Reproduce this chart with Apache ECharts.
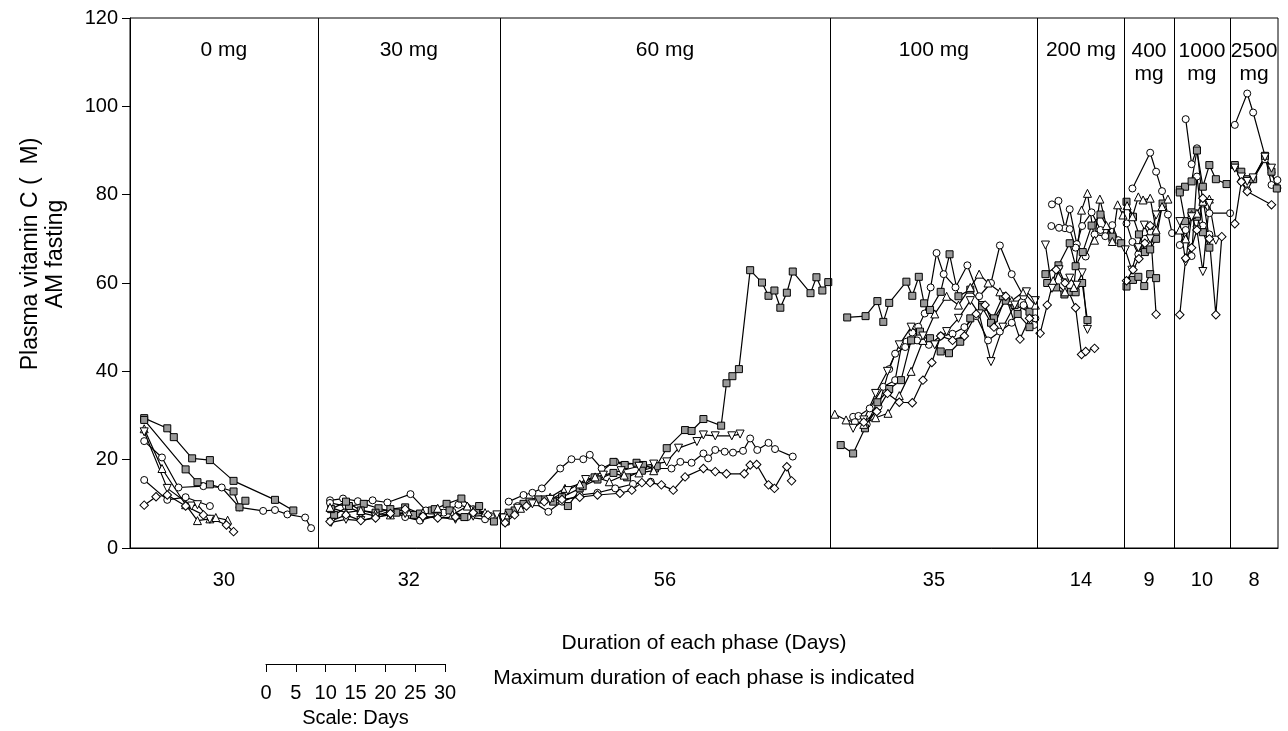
<!DOCTYPE html>
<html lang="en">
<head>
<meta charset="UTF-8">
<title>Plasma vitamin C</title>
<script src="https://cdn.jsdelivr.net/npm/echarts@6/dist/echarts.min.js"></script>
<style>
  html, body { margin: 0; padding: 0; background: #fff; }
  #chart { width: 1288px; height: 731px; }
</style>
</head>
<body>
<div id="chart"></div>
<script>
// phases (dose) and their maximum duration in days
var phaseNames = ['0 mg', '30 mg', '60 mg', '100 mg', '200 mg', '400\nmg', '1000\nmg', '2500\nmg'];
var phaseDays = [30, 32, 56, 35, 14, 9, 10, 8];
// phase borders on the running day axis
var phaseEdges = [0, 31.75, 62.5, 118.3, 153.4, 168, 176.4, 185.9, 194];
var scaleTicks = [0, 30];

// one array per subject, [day, µM]; null = next phase
var circleA = [
  [2.4,24.2],[5.4,20.5],[8.2,13.7],[12.4,14.0],[15.5,13.7],[18.5,9.2],[22.5,8.4],[24.5,8.6],[26.6,7.6],[29.6,6.9],[30.6,4.5], null,
  [33.8,10.8],[36,11.2],[38.5,10.6],[41,10.8],[43.5,10.3],[47.4,12.2],[50,8.5],[53,8.0],[55.5,9.8],[58,8.8],[61,7.2], null,
  [64,10.5],[66.5,12.0],[68,12.5],[69.6,13.5],[72.7,18.0],[74.6,20.1],[76.6,20.1],[77.7,21.1],[79.7,18.0],[82,19.5],[85.6,19.0],[88.7,18.0],[91.5,18.0],[93,19.5],[94.9,19.3],[96.9,21.4],[97.7,20.3],[98.9,22.2],[100.5,21.8],[101.9,21.6],[103.6,22.0],[104.8,24.8],[106,22.2],[107.9,23.8],[109,22.4],[112,20.7], null,
  [122.2,29.7],[123.1,29.9],[125,31.6],[127.3,36.5],[129.3,38.0],[130.4,46.0],[131.2,46.7],[132.2,48.8],[133.2,50.1],[134.3,53.1],[135.3,59],[136.3,66.8],[137.5,62],[139.5,59],[141.5,64],[143.5,57],[145.5,60],[147,68.5],[149,62],[151,57],[152.8,50.5], null,
  [155.8,77.8],[156.9,78.6],[158,72.4],[158.8,76.7],[160,68.8],[161.5,66],[163,71],[164.8,70.6],[166,73.1],[167,69.7], null,
  [169.4,81.4],[172.4,89.5],[173.4,85.2],[174.4,80.8],[175.4,75.5],[176.1,71.3], null,
  [178.4,97.1],[179.4,86.9],[180.3,90.5],[181.3,78],[182.4,75.8],[185.9,75.8], null,
  [186.7,95.8],[188.8,102.9],[189.8,98.6],[191.8,88.8],[192.9,82.2],[193.9,83.3]
];
var circleB = [
  [2.4,15.4],[6.3,10.9],[9.4,11.5],[13.5,9.5], null,
  [33.8,10.2],[36.5,9.5],[39,8.0],[41.5,7.2],[44,8.5],[46.5,7.0],[49,6.2],[52,7.5],[54.5,8.2],[57,7.0],[60,6.5], null,
  [63,7.0],[65.5,9.5],[68,10.5],[70.7,8.2],[73,10.5],[76,12.0],[79,12.5],[82,13.5],[85,14.5],[88,15.0], null,
  [122.5,28.5],[124.5,28],[126.5,32],[128.3,40.5],[129.3,44],[131,45.5],[133,47],[135,46],[137,48],[139,48.5],[141,50],[143,52.5],[145,47],[147,49],[149,51],[151,55],[153,52], null,
  [155.7,72.9],[157,72.5],[158.8,72.2],[159.8,68],[160.9,72.9],[162.5,76],[164,72],[166,69.5], null,
  [168.4,73.5],[169.4,69.3],[170.4,66.5],[171.5,70],[172.5,71.5],[173.4,71.3], null,
  [177.4,68.6],[178.4,72],[179.4,66.1],[180.3,84.1],[181.3,73],[182.4,71], null,
  [186.7,86.5],[187.8,83],[188.8,81],[189.8,83.5],[191.8,88],[192.9,85],[193.9,81.5]
];
var squareA = [
  [2.4,29.4],[6.3,27.1],[7.4,25.1],[10.5,20.3],[13.5,19.9],[17.5,15.2],[24.5,10.9],[27.6,8.5], null,
  [34.5,7.5],[37,9.5],[39.5,10.0],[42,9.0],[45,8.0],[48,7.5],[51,8.5],[53.5,10.0],[56,11.2],[58.5,8.5],[61.5,6.0], null,
  [63.5,6.0],[65,8.5],[67.5,10.5],[70,11.0],[73,11.5],[76,13.5],[78.5,16.0],[81.7,19.5],[83.6,18.8],[85.6,19.3],[86.7,18.8],[88.7,18.0],[90.7,22.6],[93.8,26.7],[94.9,26.5],[96.9,29.2],[99.9,27.7],[100.8,37.3],[101.8,38.9],[102.9,40.5],[104.8,62.9],[106.8,60.1],[107.9,57.1],[108.9,58.3],[109.9,54.4],[111,57.8],[112,62.6],[115,57.7],[116,61.3],[117,58.3],[118,60.2], null,
  [121.2,52.2],[124.3,52.5],[126.3,55.9],[127.3,51.2],[128.3,55.5],[131.2,60.3],[132.2,57.1],[133.3,61.4],[134.2,55.4],[135.2,53.9],[137,58],[138.5,66.5],[140,57],[142,58.5],[144,55],[146,52],[148,56],[150,53],[152,50], null,
  [154.7,62],[156.9,64],[158.8,69],[159.8,63.8],[161,67],[162.5,73],[164,75.5],[166,70.5],[167.5,69], null,
  [168.4,78.4],[169.5,75],[170.5,71],[171.5,67],[172.4,67.6],[173.4,70],[174.5,78], null,
  [177.4,81.1],[178.3,81.8],[179.4,83],[180.3,90],[181.3,81.8],[182.4,86.7],[183.5,83.5],[185.3,82.4], null,
  [186.7,86.7],[187.8,85.2],[188.8,83.5],[189.8,83.5],[191.8,88.8],[192.9,85.2],[193.8,81.4]
];
var squareB = [
  [2.4,29.0],[9.4,17.8],[11.4,14.9],[13.5,14.4],[17.5,12.8],[18.5,9.2],[19.5,10.7], null,
  [34,8.8],[36.5,10.5],[39,8.5],[41.5,8.0],[44,8.8],[46.5,9.2],[49,7.8],[51.5,8.8],[54,8.5],[56.5,7.0],[59,9.5], null,
  [64,8.0],[66.5,10.0],[69,11.0],[71.5,10.5],[74,9.5],[76.5,14.0],[79,15.5],[81.7,17.0],[84,16.0],[86.5,17.5],[89,18.5], null,
  [120.1,23.3],[122.2,21.4],[124.2,27.1],[126.3,33],[128.3,36],[130.3,38],[132,47],[133.5,49],[135.2,47.5],[137,44.5],[138.4,44.1],[140.3,46.7],[142,52],[144,54.5],[145.5,51],[147.5,57],[149.5,55],[152,53.5], null,
  [155,60],[156.5,59],[157.9,57.4],[159,58],[159.8,57.9],[160.9,60],[161.8,51.6], null,
  [168.4,59.2],[169.5,60.7],[170.4,61.4],[171.4,59.3],[172.4,62],[173.4,61.1], null,
  [177.4,80.5],[178.3,74],[179.4,76],[180.3,75],[181.3,71.5],[182.4,68]
];
var triangleUp = [
  [2.4,27.0],[5.4,18],[9.4,9.8],[11.4,6.2],[13.5,6.6],[14.5,6.9],[16.5,6.3], null,
  [33.8,9.2],[36.5,8.0],[39,8.5],[41.5,7.8],[44,7.5],[47,8.2],[49.5,8.0],[52,9.0],[54.5,7.5],[57,9.5],[60,8.0], null,
  [63.5,7.5],[66,9.0],[68.5,10.5],[71,11.5],[73.5,13.5],[76,14.5],[78.6,16.1],[81,15.0],[83.5,16.5],[86,17.0],[88.5,17.5], null,
  [119.1,30.3],[121,29],[124,28],[126,29.5],[128.1,30.5],[130,34.5],[132,40],[134,47],[136,53],[138,57],[140,55],[142,59],[143.5,62],[145,60],[147,58],[149,56],[151,58],[153,55], null,
  [156,60.5],[158,58],[159.5,59],[160.8,76.5],[161.8,80.3],[163,69.7],[163.9,79],[165,73],[166,69.4],[166.9,77.7],[167.8,75.4], null,
  [168.5,77.5],[169.4,75],[170.4,79.5],[171.2,78.8],[172.4,79.2],[173.4,72],[174.4,77.3],[175.4,79], null,
  [177.4,72],[178.4,70],[179.4,75.5],[180.3,75.8],[181.3,78.5],[182.4,79]
];
var triangleDown = [
  [2.4,26.3],[6.3,13.5],[10.4,9.5],[11.4,9.8],[13.5,6.5], null,
  [34,5.8],[36.5,6.5],[39,6.2],[41.5,7.0],[44,7.5],[46.5,7.8],[49.5,6.8],[52,7.0],[55,6.5],[58,7.2],[62,7.5], null,
  [63,6.8],[65.5,9.0],[68,10.0],[71,11.0],[74,13.0],[77,15.5],[80,16.5],[83,17.5],[86,18.5],[88.5,19.0],[90.7,19.5],[92.7,22.6],[95.8,24.1],[96.9,25.6],[98.9,25.4],[101.7,25.4],[103.1,25.8], null,
  [122.2,27.1],[124,29],[126,35],[128,40],[130,46],[132,50],[134,48],[136,46],[138,49],[140,52],[142,56],[143.5,53],[145.5,42.2],[147.5,50],[149.5,55],[151.5,58],[153,56], null,
  [154.7,68.6],[155.8,58.8],[157,63],[158,60],[158.8,61.1],[160,59.5],[160.9,62.3],[161.8,49.5], null,
  [168.2,67.5],[169.3,62.9],[170.4,68],[171.4,73.1],[172.4,70],[173.4,75.4], null,
  [177.4,73.9],[178.4,64.8],[179.4,75],[180.3,72],[181.3,62.6],[182.4,78],[183.5,69.7], null,
  [186.7,86],[187.8,84],[188.8,83],[189.8,83.8],[191.8,88.5],[192.9,86]
];
var diamond = [
  [2.4,9.7],[4.4,11.6],[6.3,12.0],[9.4,9.5],[12.4,7.5],[16.3,5.2],[17.5,3.7], null,
  [33.8,6.0],[36.5,7.5],[39,6.2],[41.5,6.8],[44,7.8],[46.5,8.8],[49.5,7.2],[52,6.8],[55,7.0],[58,8.0],[60.5,7.5], null,
  [63.4,5.7],[65,7.5],[67,9.5],[70,10.5],[73,11.0],[76,11.5],[79,12.0],[82.8,12.4],[84.8,13.1],[86.5,14.8],[87.9,14.8],[89.8,14.3],[91.8,13.1],[93.8,16.1],[96.9,18.0],[98.9,17.3],[100.8,16.8],[103.8,16.8],[104.8,18.8],[105.9,18.9],[107.9,14.3],[108.9,13.5],[111,18.4],[111.8,15.2], null,
  [124,28.5],[126.2,30.9],[128,35],[130,33],[132.2,32.9],[134,38],[135.5,42],[137,48],[139,47],[141,48],[143,53],[144.5,55],[146,50],[148,57],[150.4,47.3],[152,52], null,
  [153.8,48.6],[155,55],[156.5,63],[158,60],[159.8,54.4],[160.8,43.8],[161.5,44.5],[163,45.2], null,
  [168.4,60.5],[169.5,63],[170.5,65.5],[171.5,69],[172.4,73],[173.4,52.9], null,
  [177.4,52.8],[178.4,65.6],[179.4,68],[180.3,72],[181.3,79.2],[182.4,70],[183.5,52.8],[184.5,70.5], null,
  [186.7,73.4],[187.8,82.9],[188.8,80.7],[192.9,77.7]
];

var FONT = 'Liberation Sans, Arial, sans-serif';

var subjects = [
  { data: circleA, symbol: 'circle', size: 7, rotate: 0, fill: '#fff' },
  { data: circleB, symbol: 'circle', size: 7, rotate: 0, fill: '#fff' },
  { data: squareA, symbol: 'rect', size: 7, rotate: 0, fill: '#999' },
  { data: squareB, symbol: 'rect', size: 7, rotate: 0, fill: '#999' },
  { data: triangleUp, symbol: 'triangle', size: 8, rotate: 0, fill: '#fff' },
  { data: triangleDown, symbol: 'triangle', size: 8, rotate: 180, fill: '#fff' },
  { data: diamond, symbol: 'rect', size: 6, rotate: 45, fill: '#fff' }
];

function splitPhases(arr) {
  var segs = [[]];
  arr.forEach(function (p) {
    if (p === null) segs.push([]);
    else segs[segs.length - 1].push(p);
  });
  return segs;
}

var centers = [];
for (var i = 0; i < phaseNames.length; i++) {
  centers.push((phaseEdges[i] + phaseEdges[i + 1]) / 2);
}

var series = [];
subjects.forEach(function (s) {
  splitPhases(s.data).forEach(function (seg) {
    series.push({
      type: 'line',
      data: seg,
      symbol: s.symbol,
      symbolSize: s.size,
      symbolRotate: s.rotate,
      showAllSymbol: true,
      lineStyle: { color: '#000', width: 1.2 },
      itemStyle: { color: s.fill, borderColor: '#000', borderWidth: 1 },
      silent: true,
      z: 3
    });
  });
});

// phase borders
series.push({
  type: 'line',
  data: [],
  silent: true,
  markLine: {
    symbol: ['none', 'none'],
    label: { show: false },
    lineStyle: { color: '#000', width: 1, type: 'solid' },
    data: phaseEdges.slice(1, -1).map(function (e) { return { xAxis: e }; })
  }
});

// dose labels at top of each phase
series.push({
  type: 'line',
  symbol: 'none',
  lineStyle: { width: 0, opacity: 0 },
  silent: true,
  data: [],
  markPoint: {
    symbol: 'circle',
    symbolSize: 0,
    silent: true,
    itemStyle: { opacity: 1 },
    label: {
      show: true, position: 'inside', formatter: '{b}',
      color: '#000', fontSize: 21, lineHeight: 23, fontFamily: FONT
    },
    data: phaseNames.map(function (n, i) {
      return { name: n, coord: [centers[i], n.indexOf('\n') >= 0 ? 109.9 : 112.7] };
    })
  }
});

var chart = echarts.init(document.getElementById('chart'));
chart.setOption({
  animation: false,
  backgroundColor: '#fff',
  grid: [
    { left: 130, right: 10, top: 18, bottom: 183, show: true, borderColor: '#000', borderWidth: 1 },
    { left: 266, width: 179, top: 663, height: 1 }
  ],
  xAxis: [{
    type: 'value', min: 0, max: 194,
    splitLine: { show: false },
    axisLine: { lineStyle: { color: '#000', width: 1 } },
    axisTick: { show: false },
    axisLabel: {
      customValues: centers,
      margin: 22,
      color: '#000', fontSize: 20, fontFamily: FONT,
      formatter: function (v) {
        for (var k = 0; k < centers.length; k++) {
          if (Math.abs(centers[k] - v) < 0.01) return String(phaseDays[k]);
        }
        return '';
      }
    },
    name: 'Duration of each phase (Days)\nMaximum duration of each phase is indicated',
    nameLocation: 'middle',
    nameGap: 78,
    nameTextStyle: { color: '#000', fontSize: 21, lineHeight: 35, fontFamily: FONT, verticalAlign: 'top' }
  }, {
    gridIndex: 1, type: 'value', min: scaleTicks[0], max: scaleTicks[1], interval: 5,
    splitLine: { show: false },
    axisLine: { lineStyle: { color: '#000', width: 1 } },
    axisTick: { length: 8, lineStyle: { color: '#000' } },
    axisLabel: { margin: 19, color: '#000', fontSize: 20, fontFamily: FONT, showMinLabel: true, showMaxLabel: true },
    name: 'Scale: Days', nameLocation: 'middle', nameGap: 44,
    nameTextStyle: { color: '#000', fontSize: 20, fontFamily: FONT }
  }],
  yAxis: [{
    type: 'value', min: 0, max: 120, interval: 20,
    splitLine: { show: false },
    axisLine: { show: true, lineStyle: { color: '#000', width: 1 } },
    axisTick: { show: true, length: 8, lineStyle: { color: '#000' } },
    axisLabel: { margin: 12, color: '#000', fontSize: 20, fontFamily: FONT },
    name: 'Plasma vitamin C (  M)\nAM fasting',
    nameLocation: 'middle',
    nameGap: 62,
    nameTextStyle: { color: '#000', fontSize: 23, lineHeight: 25, fontFamily: FONT, padding: [0, 0, 0, 58] }
  }, {
    gridIndex: 1, show: false, type: 'value'
  }],
  series: series
});
</script>
</body>
</html>
